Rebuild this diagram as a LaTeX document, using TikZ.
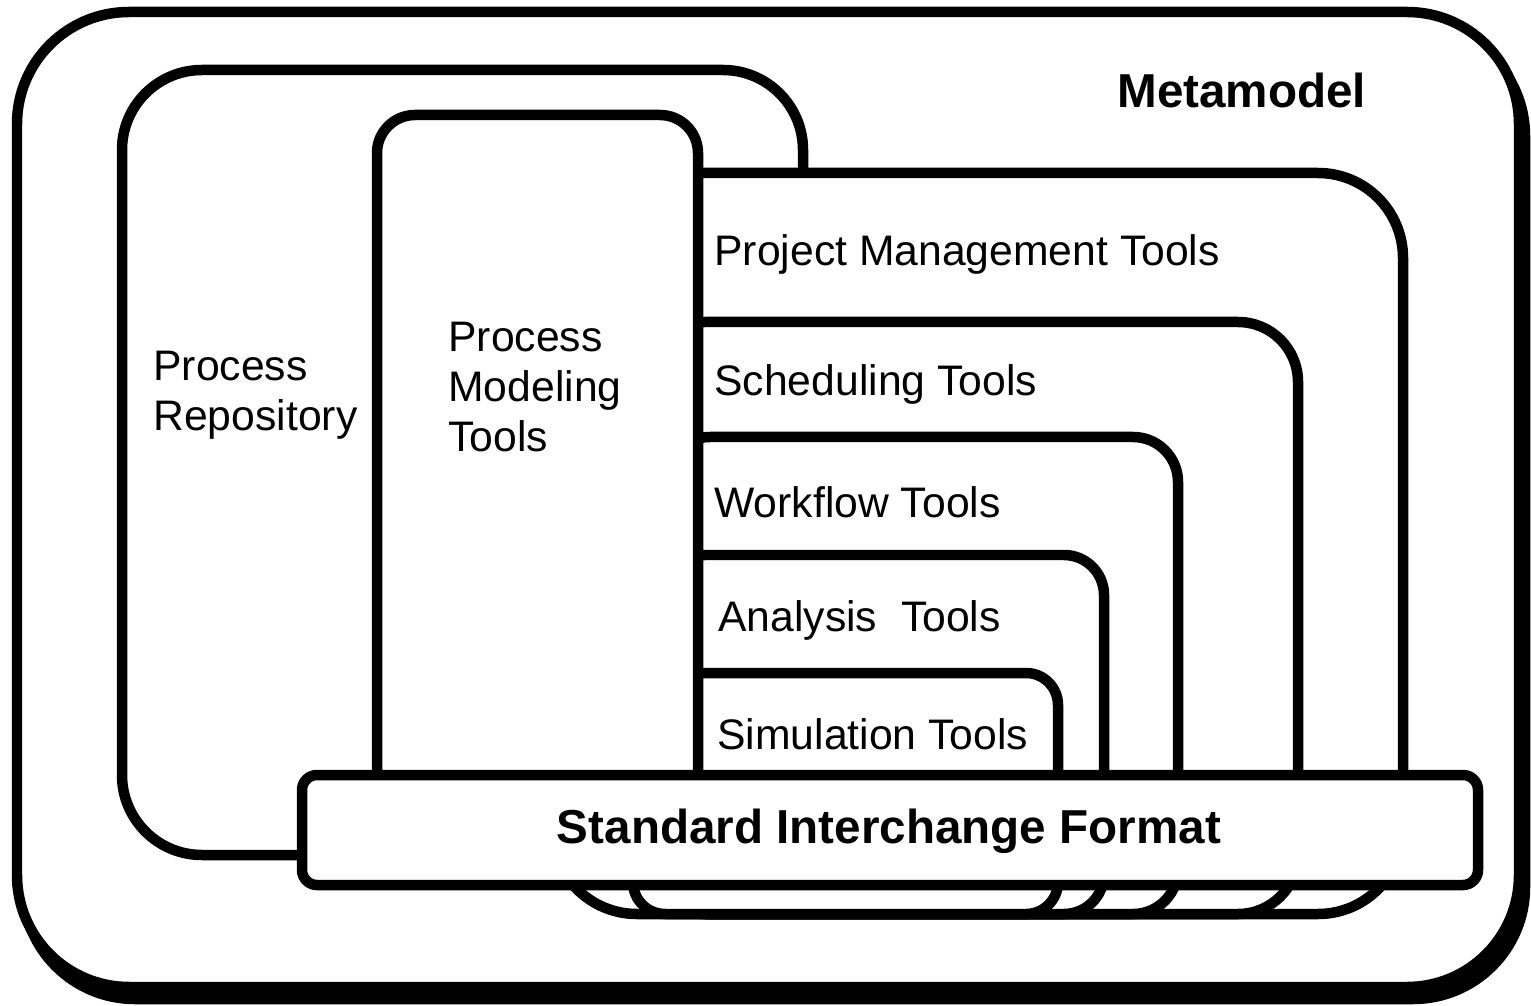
\documentclass[tikz,border=0pt]{standalone}
\usepackage{fontspec}
\setmainfont{Liberation Sans}

\begin{document}
\begin{tikzpicture}[x=0.02cm,y=-0.02cm]
    \tikzstyle{panel}=[draw=black,fill=white,line width=0.21cm]
    \tikzstyle{toolname}=[anchor=west,inner sep=0pt,align=left,font=\fontsize{24.3}{28.45}\selectfont]
    \tikzstyle{boldname}=[inner sep=0pt,font=\fontsize{27.1}{32}\selectfont\bfseries]
    \useasboundingbox (0,0) rectangle (1531,1006);
    \filldraw[line width=0.21cm,rounded corners=2.24cm] (23,24) rectangle (1525,999);
    \draw[panel,rounded corners=2.24cm] (17,12) rectangle (1519,987);
    \draw[panel,rounded corners=1.6cm] (122,70) rectangle (803,855);
    \draw[panel,rounded corners=1.7cm] (552,173) rectangle (1403,914);
    \draw[panel,rounded corners=1.2cm] (645,322) rectangle (1298,914);
    \draw[panel,rounded corners=0.9cm] (665,437) rectangle (1178,914);
    \draw[panel,rounded corners=0.8cm] (665,555) rectangle (1104,914);
    \draw[panel,rounded corners=0.64cm] (633,673) rectangle (1058,914);
    \draw[panel,rounded corners=0.76cm] (377,115) rectangle (698,860);
    \draw[panel,rounded corners=0.3cm] (302,775) rectangle (1478,885);
    \node[boldname,anchor=west] (meta) at (1117,90) {Metamodel};
    \node[toolname] (repo) at (153,395) {Process\\Repository};
    \node[toolname] (model) at (448,387) {Process\\Modeling\\Tools};
    \node[toolname] (project) at (714,254) {Project Management Tools};
    \node[toolname] (sched) at (714,384) {Scheduling Tools};
    \node[toolname] (flow) at (714,502) {Workflow Tools};
    \node[toolname] (analysis) at (718,620) {Analysis\ \ Tools};
    \node[toolname] (sim) at (717,734) {Simulation Tools};
    \node[boldname] (format) at (889,831) {Standard Interchange Format};
\end{tikzpicture}
\end{document}
